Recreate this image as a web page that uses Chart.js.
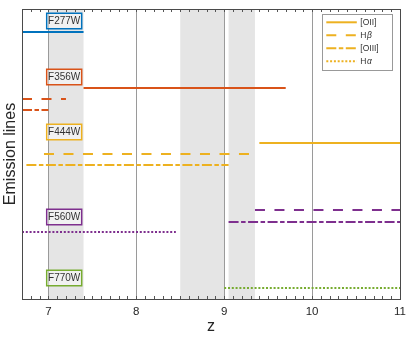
<!DOCTYPE html>
<html><head><meta charset="utf-8">
<script src="https://cdn.jsdelivr.net/npm/chart.js@4/dist/chart.umd.min.js"></script>
<style>html,body{margin:0;padding:0;background:#fff;} canvas{display:block;}</style>
</head><body>
<canvas id="c" width="415" height="338"></canvas>
<script>
// ---- Data ----
const segNames  = ['F277W [OII]','F356W [OII]','F356W Hβ','F356W [OIII]','F444W [OII]','F444W Hβ','F444W [OIII]','F560W Hβ','F560W [OIII]','F560W Hα','F770W Hα'];
const segStart  = [6.7, 7.4, 6.7, 6.7, 9.4, 6.95, 6.75, 9.35, 9.05, 6.7, 9.0];
const segEnd    = [7.4, 9.7, 7.2, 7.0, 11.0, 9.3, 9.05, 11.0, 11.0, 8.45, 11.0];
const segLevel  = [26.7, 21.1, 20.0, 18.9, 15.6, 14.5, 13.4, 8.9, 7.7, 6.7, 1.1];
const segFilter = [0, 1, 1, 1, 2, 2, 2, 3, 3, 3, 4];
const segLine   = [0, 0, 1, 2, 0, 1, 2, 1, 2, 3, 3];
const filterNames = ['F277W','F356W','F444W','F560W','F770W'];
const filterLabelZ = [7.18, 7.18, 7.18, 7.18, 7.18];
const filterLabelLevel = [27.8, 22.2, 16.7, 8.2, 2.1];
const bandStart = [7.0, 8.5, 9.05];
const bandEnd   = [7.4, 9.0, 9.35];
const xTickValues = [7, 8, 9, 10, 11];
const legendLabels = ['[OII]', 'Hβ', '[OIII]', 'Hα'];

// ---- Styles ----
const filterColors = ['#0072BD','#D95319','#EDB120','#7E2F8E','#77AC30'];
const lineDashes = [[], [10, 9.5], [10, 2.5, 4.5, 2.5], [2, 1.8]];
const FONT = 'Liberation Sans, Arial, Helvetica, sans-serif';

const datasets = segStart.map((s, i) => ({
  label: segNames[i],
  data: [{x: s, y: segLevel[i]}, {x: segEnd[i], y: segLevel[i]}],
  borderColor: filterColors[segFilter[i]],
  backgroundColor: filterColors[segFilter[i]],
  borderDash: lineDashes[segLine[i]],
  borderWidth: 2.2,
  borderCapStyle: 'butt',
  pointRadius: 0,
  fill: false,
  tension: 0
}));

const decor = {
  id: 'decor',
  beforeDraw(chart) {
    const {ctx, chartArea: a, scales: {x}} = chart;
    ctx.save();
    ctx.fillStyle = '#fff';
    ctx.fillRect(0, 0, chart.width, chart.height);
    ctx.fillStyle = '#e5e5e5';
    bandStart.forEach((b, i) => {
      const x0 = x.getPixelForValue(b), x1 = x.getPixelForValue(bandEnd[i]);
      ctx.fillRect(x0, a.top, x1 - x0, a.bottom - a.top);
    });
    ctx.restore();
  },
  afterDraw(chart) {
    const {ctx, chartArea: a, scales: {x, y}} = chart;
    ctx.save();
    // minor ticks
    ctx.strokeStyle = '#555';
    ctx.lineWidth = 1;
    ctx.beginPath();
    for (let k = Math.ceil(x.min * 10); k <= Math.floor(x.max * 10); k++) {
      const px = Math.round(x.getPixelForValue(k / 10)) + 0.5;
      ctx.moveTo(px, a.top); ctx.lineTo(px, a.top + 3);
      ctx.moveTo(px, a.bottom); ctx.lineTo(px, a.bottom - 3);
    }
    ctx.stroke();
    // frame
    ctx.strokeStyle = '#4a4a4a';
    ctx.strokeRect(Math.round(a.left) + 0.5, Math.round(a.top) + 0.5, Math.round(a.right - a.left), Math.round(a.bottom - a.top));
    // filter labels
    ctx.font = '10px ' + FONT;
    ctx.textAlign = 'center';
    ctx.textBaseline = 'middle';
    filterNames.forEach((n, i) => {
      const cx = x.getPixelForValue(filterLabelZ[i]);
      const cy = y.getPixelForValue(filterLabelLevel[i]);
      const w = 35, h = 15.5;
      ctx.fillStyle = 'rgba(255,255,255,0.45)';
      ctx.fillRect(cx - w / 2, cy - h / 2, w, h);
      ctx.strokeStyle = filterColors[i];
      ctx.lineWidth = 1.5;
      ctx.strokeRect(cx - w / 2, cy - h / 2, w, h);
      ctx.fillStyle = '#333';
      ctx.fillText(n, cx, cy + 0.5);
    });
    // legend
    const lx = a.right - 77.7, ly = a.top + 5, lw = 70, lh = 56;
    ctx.fillStyle = '#fff';
    ctx.fillRect(lx, ly, lw, lh);
    ctx.strokeStyle = '#999';
    ctx.lineWidth = 1;
    ctx.strokeRect(Math.round(lx) + 0.5, Math.round(ly) + 0.5, lw, lh);
    ctx.textAlign = 'left';
    legendLabels.forEach((t, i) => {
      const yy = ly + 8.3 + i * 13;
      ctx.strokeStyle = filterColors[2];
      ctx.lineWidth = 2;
      ctx.setLineDash(lineDashes[i]);
      ctx.beginPath();
      ctx.moveTo(lx + 4, yy); ctx.lineTo(lx + 34.5, yy);
      ctx.stroke();
      ctx.setLineDash([]);
      ctx.fillStyle = '#333';
      const m = t.match(/^(H)([α-ω])$/);
      if (m) {
        ctx.font = '8.5px ' + FONT;
        ctx.fillText(m[1], lx + 38, yy);
        const w1 = ctx.measureText(m[1]).width;
        ctx.font = 'italic 8.5px ' + FONT;
        ctx.fillText(m[2], lx + 38 + w1 + 0.5, yy);
      } else {
        ctx.font = '8.5px ' + FONT;
        ctx.fillText(t, lx + 38, yy);
      }
    });
    ctx.restore();
  }
};

new Chart(document.getElementById('c'), {
  type: 'line',
  data: { datasets },
  options: {
    responsive: false,
    animation: false,
    devicePixelRatio: 1,
    layout: { padding: { top: 9, right: 15, left: 0, bottom: 0 } },
    plugins: { legend: { display: false }, tooltip: { enabled: false } },
    scales: {
      x: {
        type: 'linear', min: 6.7, max: 11,
        afterBuildTicks: s => { s.ticks = xTickValues.map(v => ({ value: v })); },
        afterFit: s => { s.height = 39; },
        grid: { color: '#9a9a9a', lineWidth: 1, drawTicks: false },
        border: { display: false },
        ticks: { font: { family: FONT, size: 11.5 }, color: '#262626', padding: 6, maxRotation: 0, autoSkip: false, callback: v => String(v) },
        title: { display: true, text: 'z', font: { family: FONT, size: 16 }, color: '#262626', padding: { top: 0, bottom: 2 } }
      },
      y: {
        type: 'linear', min: 0, max: 29,
        afterFit: s => { s.width = 22; },
        ticks: { display: false },
        grid: { display: false, drawTicks: false },
        border: { display: false },
        title: { display: true, text: 'Emission lines', font: { family: FONT, size: 16 }, color: '#262626', padding: { top: 1, bottom: 0 } }
      }
    }
  },
  plugins: [decor]
});
</script>
</body></html>
